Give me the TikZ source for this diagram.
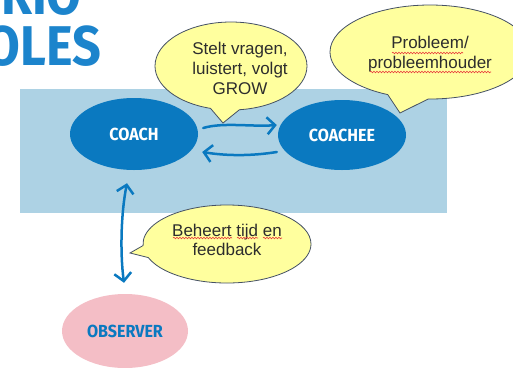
\documentclass[tikz,border=0pt]{standalone}
\usepackage{fontspec}
\setmainfont{Liberation Sans}
\newfontfamily\handfont{Fira Sans}
\usetikzlibrary{shapes.geometric,shapes.callouts,arrows.meta,decorations.pathmorphing}

\definecolor{brandblue}{RGB}{10,121,192}
\definecolor{titleblue}{RGB}{28,132,204}
\definecolor{panelblue}{RGB}{173,210,228}
\definecolor{blushpink}{RGB}{244,190,198}
\definecolor{noteyellow}{RGB}{255,255,158}
\definecolor{noteedge}{RGB}{68,80,100}
\definecolor{notetext}{RGB}{45,45,45}
\definecolor{spellred}{RGB}{232,60,60}

\newcommand{\titletext}[1]{\scalebox{0.9}[1]{\handfont\bfseries\fontsize{56}{56}\selectfont #1}}
\newcommand{\roletext}[1]{\scalebox{0.92}[1]{\handfont\bfseries\fontsize{17.5}{17.5}\selectfont #1}}

\tikzset{
  blob/.style={ellipse, fill=brandblue, text=white, inner sep=0pt},
  flow/.style={draw=brandblue, line width=2.5pt, line cap=round, line join=round},
  barb/.tip={Straight Barb[length=8pt,width=17pt]},
  tipR/.style={-barb},
  tipB/.style={barb-barb},
  note/.style={ellipse callout, fill=noteyellow, draw=noteedge, line width=0.8pt, inner sep=0pt},
  notetxt/.style={align=center, text=notetext, inner sep=0pt, font=\fontsize{17}{20}\selectfont},
  spell/.style={draw=spellred, line width=0.6pt, decorate,
    decoration={snake, amplitude=0.8pt, segment length=3pt}}
}

\begin{document}
\begin{tikzpicture}[x=1pt,y=-1pt]
\useasboundingbox (0,0) rectangle (513,367);
\clip (0,0) rectangle (513,367);

% title lettering, running off the top left corner
\node[anchor=base east, text=titleblue, inner sep=0pt] (title1) at (82,14) {\titletext{TRIO}};
\node[anchor=base east, text=titleblue, inner sep=0pt] (title2) at (101,65) {\titletext{ROLES}};

% panel behind coach and coachee
\node[fill=panelblue, minimum width=427pt, minimum height=124pt, inner sep=0pt] (panel) at (233.5,151) {};

% roles
\node[blob, minimum width=128pt, minimum height=72pt] (coach) at (134,134) {\roletext{COACH}};
\node[blob, minimum width=128pt, minimum height=70pt] (coachee) at (342,135) {\roletext{COACHEE}};
\node[ellipse, fill=blushpink, text=brandblue, inner sep=0pt,
      minimum width=126pt, minimum height=74pt] (observer) at (125,331) {\roletext{OBSERVER}};

% exchanges between the roles
\draw[flow, tipR] ([shift={(5,-6)}]coach.east) .. controls +(20,-6) and +(-25,2) .. ([shift={(-1,-10)}]coachee.west);
\draw[flow, tipR] ([shift={(-1,17)}]coachee.west) .. controls +(-25,4) and +(25,4) .. ([shift={(4,18)}]coach.east);
\draw[flow, tipB] ([shift={(-7,13)}]coach.south) .. controls +(-6,30) and +(-4,-30) .. ([shift={(-1,-11)}]observer.north);

% speech bubbles
\coordinate (tipA) at (223,123);
\coordinate (tipB) at (400,113);
\coordinate (tipC) at (130,253);

\node[note, minimum width=152pt, minimum height=88pt, callout pointer arc=22,
      callout absolute pointer={(tipA)}] (noteA) at (231,66) {};
\node[notetxt] (noteAtext) at (240,68) {Stelt vragen,\\luistert, volgt\\GROW};

\node[note, minimum width=200pt, minimum height=94pt, callout pointer arc=24,
      callout absolute pointer={(tipB)}] (noteB) at (430,52) {};
\node[notetxt] (noteBtext) at (430,54) {Probleem/\\probleemhouder};

\node[note, minimum width=168pt, minimum height=78pt, callout pointer arc=18,
      callout absolute pointer={(tipC)}] (noteC) at (227,244) {};
\node[notetxt, font=\fontsize{17}{19}\selectfont] (noteCtext) at (227,240) {Beheert tijd en\\feedback};

% spell-check underlines
\draw[spell] (392,53) -- (463,53);
\draw[spell] (370,72) -- (491,72);
\draw[spell] (173,238) -- (232,238);
\draw[spell] (237,238) -- (258,238);
\draw[spell] (263,238) -- (282,238);
\end{tikzpicture}
\end{document}
